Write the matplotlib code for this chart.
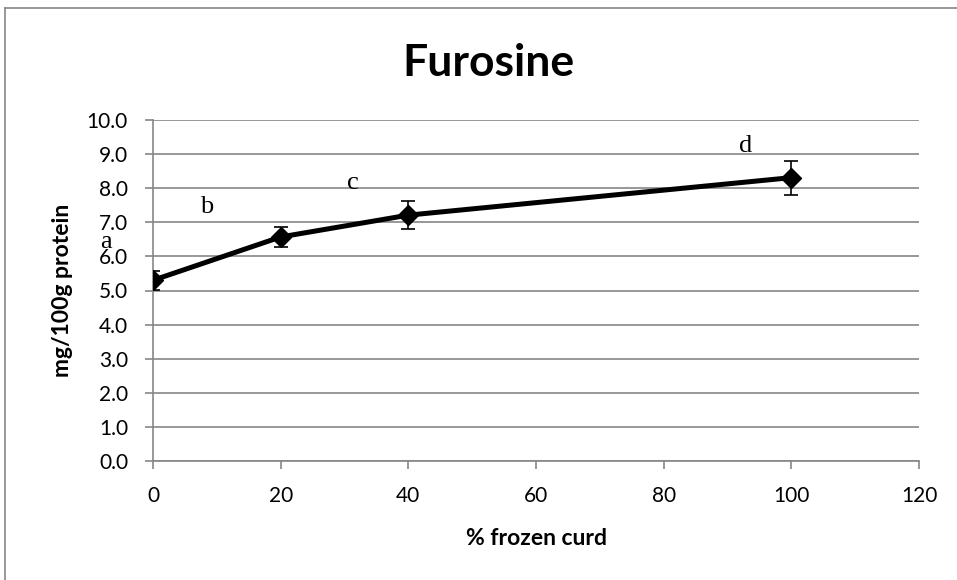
import matplotlib
matplotlib.use("Agg")
import matplotlib.pyplot as plt
from matplotlib.lines import Line2D

# % frozen curd vs furosine content
frozen_pct = [0, 20, 40, 100]
furosine = [5.30, 6.57, 7.21, 8.31]
furosine_err = [0.28, 0.29, 0.40, 0.50]

# significance letters and where they sit
letters = ["a", "b", "c", "d"]
letter_x = [-7.3, 8.4, 31.3, 92.9]
letter_y = [6.43, 7.46, 8.15, 9.25]

x_ticks = [0, 20, 40, 60, 80, 100, 120]
y_ticks = [0.0, 1.0, 2.0, 3.0, 4.0, 5.0, 6.0, 7.0, 8.0, 9.0, 10.0]

sans = ["Lato", "DejaVu Sans"]
grey = "#868686"

fig = plt.figure(figsize=(9.57, 5.8), dpi=100)
ax = fig.add_axes([153 / 957, 1 - 461 / 580, (919 - 153) / 957, (461 - 120) / 580])

ax.errorbar(frozen_pct, furosine, yerr=furosine_err, color="black", lw=3.6,
            marker="D", markersize=10, ecolor="black", elinewidth=1.2,
            capsize=5, capthick=1.2, zorder=3)

for t, lx, ly in zip(letters, letter_x, letter_y):
    ax.text(lx, ly, t, family="Liberation Serif", fontsize=19,
            ha="center", va="center", zorder=4)

ax.set_xlim(0, 120)
ax.set_ylim(0, 10)
ax.set_xticks(x_ticks)
ax.set_yticks(y_ticks)
ax.set_yticklabels([f"{v:.1f}" for v in y_ticks])
ax.yaxis.grid(True, color=grey, lw=1.2)
ax.set_axisbelow(True)

for side in ["top", "right"]:
    ax.spines[side].set_visible(False)
for side in ["left", "bottom"]:
    ax.spines[side].set_color(grey)
    ax.spines[side].set_linewidth(1.2)
ax.spines["left"].set_zorder(1)
ax.tick_params(axis="both", direction="out", length=6, width=1.2, color=grey,
               labelsize=15)
ax.tick_params(axis="x", pad=12)
ax.tick_params(axis="y", pad=12)
for lab in ax.get_xticklabels() + ax.get_yticklabels():
    lab.set_family(sans)

fig.text(488 / 957, 1 - 63 / 580, "Furosine", family=sans, fontsize=32,
         fontweight="bold", ha="center", va="center")
ax.set_xlabel("% frozen curd", family=sans, fontsize=16.5, fontweight="bold",
              labelpad=16)
ax.set_ylabel("mg/100g protein", family=sans, fontsize=16.5, fontweight="bold",
              labelpad=10)

# chart frame, only the left and top edges fall inside the image
fig.add_artist(Line2D([5 / 957, 5 / 957], [0, 1 - 8 / 580], color=grey, lw=1.2,
                      transform=fig.transFigure))
fig.add_artist(Line2D([5 / 957, 1], [1 - 8 / 580, 1 - 8 / 580], color=grey,
                      lw=1.2, transform=fig.transFigure))

fig.savefig("out.png", dpi=100)
